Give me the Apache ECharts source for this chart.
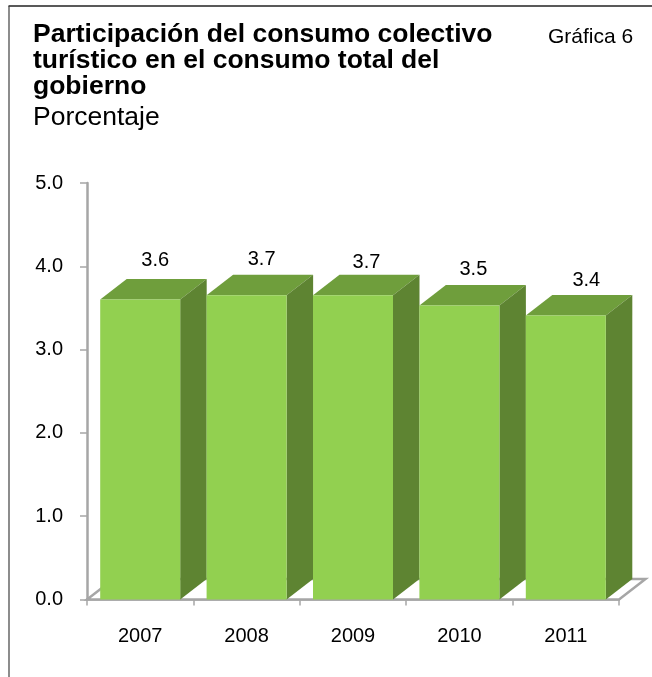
<!DOCTYPE html>
<html><head><meta charset="utf-8">
<style>html,body{margin:0;padding:0;background:#fff}#c{width:652px;height:677px}</style>
<script src="https://cdn.jsdelivr.net/npm/echarts@6/dist/echarts.min.js"></script>
</head><body><div id="c"></div>
<script>
const categories = ['2007','2008','2009','2010','2011'];
const values = [3.6, 3.652, 3.652, 3.53, 3.41];
const yTicks = {min:0, max:5, interval:1};
const titleLines = 'Participación del consumo colectivo\nturístico en el consumo total del\ngobierno';
const subtitle = 'Porcentaje';
const chartNumber = 'Gráfica 6';

const DX = 26.5, DY = 20.5, BAR_W = 80;
const labelNudge = [[0,0],[0,3.5],[-1.5,6.5],[-1,3],[5.5,4]];
const FONT = '"Liberation Sans", Arial, sans-serif';
const AXIS = '#A6A6A6';

const chart = echarts.init(document.getElementById('c'), null, {renderer:'canvas'});
chart.setOption({
  animation:false,
  backgroundColor:'#fff',
  grid:{left:87, right:33, top:183, bottom:77.5},
  title:[
    {text:titleLines, left:28, top:17, textStyle:{fontFamily:FONT,fontSize:26.5,fontWeight:'bold',color:'#000',lineHeight:26}},
    {text:subtitle, left:28, top:99, textStyle:{fontFamily:FONT,fontSize:26.5,fontWeight:'normal',color:'#000'}},
    {text:chartNumber, left:543, top:22, textStyle:{fontFamily:FONT,fontSize:21,fontWeight:'normal',color:'#000'}}
  ],
  xAxis:{type:'category',data:categories,boundaryGap:true,
    axisLine:{lineStyle:{color:AXIS,width:2.5}},
    axisTick:{show:true,length:6,lineStyle:{color:AXIS,width:1.5}},
    axisLabel:{fontFamily:FONT,fontSize:20,color:'#000',margin:27},
    splitLine:{show:false}},
  yAxis:{type:'value',min:yTicks.min,max:yTicks.max,interval:yTicks.interval,
    axisLine:{show:true,lineStyle:{color:AXIS,width:2.5}},
    axisTick:{show:true,length:7,lineStyle:{color:AXIS,width:1.5}},
    axisLabel:{fontFamily:FONT,fontSize:20,color:'#000',margin:24,padding:[3,0,0,0],formatter:v=>v.toFixed(1)},
    splitLine:{show:false}},
  graphic:[
    {type:'line',silent:true,z:-10,shape:{x1:8.5,y1:6,x2:652,y2:6},style:{stroke:'#595959',lineWidth:2}},
    {type:'line',silent:true,z:-10,shape:{x1:9,y1:6,x2:9,y2:677},style:{stroke:'#404040',lineWidth:1.2}}
  ],
  series:[
    {type:'custom',silent:true,z:1,data:[0],
     renderItem(params){
       const c=params.coordSys;const x=c.x,y=c.y+c.height,w=c.width;
       return {type:'polygon',shape:{points:[[x,y],[x+w,y],[x+w+DX,y-DY],[x+DX,y-DY]]},
         style:{fill:'#fff',stroke:AXIS,lineWidth:2.5}};
     }},
    {type:'custom',z:2,data:values.map((v,i)=>[i,v]),encode:{x:0,y:1},clip:false,
     renderItem(params,api){
       const i=api.value(0),v=api.value(1);
       const top=api.coord([i,v]),base=api.coord([i,0]);
       const l=top[0]-BAR_W/2,r=top[0]+BAR_W/2,t=top[1],b=base[1];
       const n=labelNudge[params.dataIndex];
       return {type:'group',children:[
         {type:'polygon',shape:{points:[[l,t],[r,t],[r+DX,t-DY],[l+DX,t-DY]]},style:{fill:'#6F9E3C'}},
         {type:'polygon',shape:{points:[[r,t],[r+DX,t-DY],[r+DX,b-DY],[r,b]]},style:{fill:'#5E8432'}},
         {type:'rect',shape:{x:l,y:t,width:BAR_W,height:b-t},style:{fill:'#92D050'}},
         {type:'text',style:{text:v.toFixed(1),x:top[0]+15+n[0],y:t-39+n[1],align:'center',verticalAlign:'middle',
           font:'20px '+FONT,fill:'#000'}}
       ]};
     }}
  ]
});
</script></body></html>
